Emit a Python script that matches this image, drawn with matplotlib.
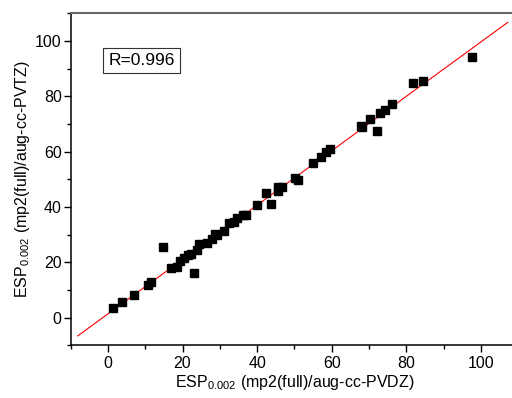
import matplotlib
matplotlib.use("Agg")
import matplotlib.pyplot as plt
import numpy as np

plt.rcParams['font.family'] = ['Liberation Sans', 'DejaVu Sans']
plt.rcParams['mathtext.fontset'] = 'custom'
plt.rcParams['mathtext.rm'] = 'Liberation Sans'
plt.rcParams['mathtext.it'] = 'Liberation Sans'

# ESP values, aug-cc-PVDZ (x) vs aug-cc-PVTZ (y)
esp_dz = [1.4, 3.7, 6.9, 10.8, 11.6, 14.8, 16.9, 18.4, 19.3, 20.4,
          21.4, 22.4, 23.1, 24.0, 24.5, 26.5, 28.0, 28.7, 29.2, 31.1,
          32.5, 33.8, 34.5, 36.1, 37.0, 39.9, 42.4, 43.7, 45.7, 45.7,
          46.8, 50.1, 50.9, 54.9, 57.1, 58.6, 59.5, 67.8, 68.1, 70.2,
          72.2, 72.9, 74.4, 76.2, 81.9, 84.5, 97.5]
esp_tz = [3.4, 5.6, 8.2, 11.8, 12.8, 25.7, 18.1, 18.4, 20.6, 21.5,
          22.7, 23.0, 16.2, 24.5, 26.7, 26.9, 28.4, 30.3, 30.0, 31.5,
          34.2, 34.7, 36.2, 37.1, 37.2, 40.9, 45.0, 41.0, 45.9, 47.4,
          47.4, 50.6, 49.8, 55.8, 58.0, 59.8, 61.0, 69.4, 69.0, 71.9,
          67.6, 73.9, 74.9, 77.2, 85.0, 85.7, 94.2]

fit_x = [-8.1, 107.2]
slope, intercept = 0.983, 1.36

fig = plt.figure(figsize=(5.12, 3.98), dpi=100)
ax = fig.add_axes([0.138, 0.1324, 0.874, 0.834])

ax.plot(fit_x, [intercept + slope * v for v in fit_x], color='red', lw=0.8, zorder=2)
ax.plot(esp_dz, esp_tz, ls='none', marker='s', ms=5.8, color='black', zorder=3)

ax.set_xlim(-10, 110)
ax.set_ylim(-10, 110)
ax.set_xticks(range(0, 101, 20))
ax.set_yticks(range(0, 101, 20))
ax.set_xticks(range(-10, 111, 20), minor=True)
ax.set_yticks(range(-10, 111, 20), minor=True)
ax.tick_params(which='major', direction='out', length=5, width=1, labelsize=11.5, top=False, right=False)
ax.tick_params(which='minor', direction='out', length=3, width=1, top=False, right=False)
ax.tick_params(axis='x', pad=3)
ax.tick_params(axis='y', pad=1.5)

ax.spines['right'].set_visible(False)
ax.spines['top'].set_color('#666666')
ax.spines['top'].set_linewidth(1.5)
for s in ['left', 'bottom']:
    ax.spines[s].set_linewidth(1.1)

ax.set_xlabel(r'ESP$_{\mathrm{0.002}}$ (mp2(full)/aug-cc-PVDZ)', fontsize=11.5, labelpad=1)
ax.set_ylabel(r'ESP$_{\mathrm{0.002}}$ (mp2(full)/aug-cc-PVTZ)', fontsize=11.5, labelpad=2)

ax.text(0.085, 0.845, 'R=0.996', transform=ax.transAxes, fontsize=12.5,
        bbox=dict(boxstyle='square,pad=0.3', fc='white', ec='#333333', lw=0.8))

fig.savefig('out.png', dpi=100)
